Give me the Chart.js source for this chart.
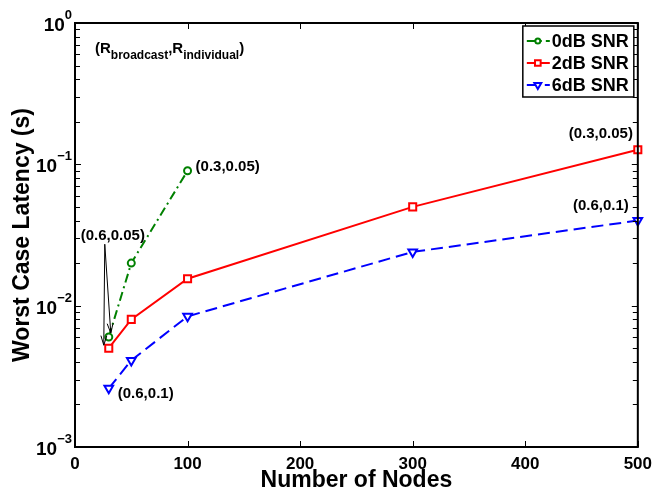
<!DOCTYPE html>
<html>
<head>
<meta charset="utf-8">
<script src="https://cdn.jsdelivr.net/npm/chart.js@4.4.0/dist/chart.umd.min.js"></script>
<style>
html,body{margin:0;padding:0;background:#fff}
</style>
</head>
<body>
<canvas id="latencyChart" width="659" height="491"></canvas>
<script>
// data
const nodesShort = [30, 50, 100]
const latency0dB = [0.006, 0.02, 0.09]
const nodes = [30, 50, 100, 300, 500]
const latency2dB = [0.005, 0.008, 0.0155, 0.05, 0.127]
const latency6dB = [0.0026, 0.0041, 0.0084, 0.024, 0.04]
const seriesNames = ["0dB SNR", "2dB SNR", "6dB SNR"]
const xTicks = [0, 100, 200, 300, 400, 500]
const yDecades = [1, 0.1, 0.01, 0.001]
const yExponents = ["0", "\u22121", "\u22122", "\u22123"]

// (rate) labels attached to data points
const notes = [
  {text:"(0.3,0.05)", x:100, y:0.09, dx:8, dy:-4, align:"left"},
  {text:"(0.3,0.05)", x:500, y:0.127, dx:-37, dy:-16, align:"center"},
  {text:"(0.6,0.1)", x:500, y:0.04, dx:-37, dy:-15, align:"center"},
  {text:"(0.6,0.1)", x:30, y:0.0026, dx:9, dy:6, align:"left"},
  {text:"(0.6,0.05)", x:30, y:0.005, dx:4, dy:-112, align:"center"}
]

const toPoints = (xs, ys) => xs.map((x, i) => ({x: x, y: ys[i]}))

const BOLD = '"Liberation Sans", Arial, Helvetica, sans-serif'

/* ======================
   MATLAB STYLE AXES
====================== */

const matlabAxes = {
  id: "matlabAxes",
  afterDraw(chart) {
    const {ctx, chartArea: a, scales: {x, y}} = chart
    ctx.save()
    ctx.strokeStyle = "#000"
    ctx.fillStyle = "#000"

    // ticks (inward, all sides)
    ctx.lineWidth = 1
    ctx.beginPath()
    xTicks.forEach(v => {
      const px = Math.round(x.getPixelForValue(v)) + 0.5
      ctx.moveTo(px, a.bottom); ctx.lineTo(px, a.bottom - 6)
      ctx.moveTo(px, a.top); ctx.lineTo(px, a.top + 6)
    })
    yDecades.forEach(d => {
      for (let m = 1; m <= 9; m++) {
        const v = d * m
        if (v > 1) break
        const py = Math.round(y.getPixelForValue(v)) + 0.5
        const len = m === 1 ? 6 : 5
        ctx.moveTo(a.left, py); ctx.lineTo(a.left + len, py)
        ctx.moveTo(a.right, py); ctx.lineTo(a.right - len, py)
      }
    })
    ctx.stroke()

    // box
    ctx.lineWidth = 2
    ctx.strokeRect(a.left, a.top, a.right - a.left, a.bottom - a.top)

    // y tick labels 10^n
    yDecades.forEach((d, i) => {
      const py = y.getPixelForValue(d)
      ctx.font = "bold 13px " + BOLD
      ctx.textAlign = "right"
      ctx.textBaseline = "alphabetic"
      const ew = ctx.measureText(yExponents[i]).width
      ctx.fillText(yExponents[i], a.left - 3, py - 4)
      ctx.font = "bold 19px " + BOLD
      ctx.fillText("10", a.left - 3 - ew, py + 8)
    })

    // corner caption (R_broadcast, R_individual)
    let cx = a.left + 20
    const cy = a.top + 30
    ctx.textAlign = "left"
    const parts = [["(R", 15, 0], ["broadcast", 12, 6], [",R", 15, 0], ["individual", 12, 6], [")", 15, 0]]
    parts.forEach(p => {
      ctx.font = "bold " + p[1] + "px " + BOLD
      ctx.fillText(p[0], cx, cy + p[2])
      cx += ctx.measureText(p[0]).width
    })

    // point labels
    ctx.font = "bold 15px " + BOLD
    ctx.textBaseline = "middle"
    notes.forEach(n => {
      ctx.textAlign = n.align
      ctx.fillText(n.text, x.getPixelForValue(n.x) + n.dx, y.getPixelForValue(n.y) + n.dy)
    })

    // arrows from (0.6,0.05) to first points
    const start = {x: x.getPixelForValue(30) - 4, y: y.getPixelForValue(0.005) - 104}
    const targets = [
      {x: x.getPixelForValue(30) - 5, y: y.getPixelForValue(0.005) - 3},
      {x: x.getPixelForValue(30) + 2, y: y.getPixelForValue(0.006) - 4}
    ]
    ctx.lineWidth = 1
    targets.forEach(t => {
      ctx.beginPath()
      ctx.moveTo(start.x, start.y)
      ctx.lineTo(t.x, t.y)
      ctx.stroke()
      const ang = Math.atan2(t.y - start.y, t.x - start.x)
      ctx.beginPath()
      ctx.moveTo(t.x, t.y)
      ctx.lineTo(t.x - 10 * Math.cos(ang - 0.3), t.y - 10 * Math.sin(ang - 0.3))
      ctx.moveTo(t.x, t.y)
      ctx.lineTo(t.x - 10 * Math.cos(ang + 0.3), t.y - 10 * Math.sin(ang + 0.3))
      ctx.stroke()
    })

    // legend box
    const lx = a.right - 115, ly = a.top + 3, lw = 111, lh = 71
    ctx.fillStyle = "#fff"
    ctx.fillRect(lx, ly, lw, lh)
    ctx.strokeStyle = "#000"
    ctx.lineWidth = 1.5
    ctx.strokeRect(lx, ly, lw, lh)
    chart.data.datasets.forEach((ds, i) => {
      const rowY = ly + 15 + i * 22
      ctx.strokeStyle = ds.borderColor
      ctx.lineWidth = ds.borderWidth
      ctx.setLineDash(ds.borderDash || [])
      ctx.beginPath()
      ctx.moveTo(lx + 4, rowY); ctx.lineTo(lx + 27, rowY)
      ctx.stroke()
      ctx.setLineDash([])
      ctx.fillStyle = ds.pointBackgroundColor
      ctx.strokeStyle = ds.borderColor
      ctx.lineWidth = ds.pointBorderWidth
      Chart.helpers.drawPoint(ctx, {
        pointStyle: ds.pointStyle, radius: ds.pointRadius - 1, rotation: ds.pointRotation || 0,
        borderWidth: ds.pointBorderWidth
      }, lx + 15, rowY)
      ctx.fillStyle = "#000"
      ctx.font = "bold 18px " + BOLD
      ctx.textAlign = "left"
      ctx.textBaseline = "middle"
      ctx.fillText(seriesNames[i], lx + 29, rowY + 1)
    })
    ctx.restore()
  }
}

/* ======================
   LATENCY CHART
====================== */

new Chart(document.getElementById("latencyChart"), {
  type: "line",
  data: {
    datasets: [{
      label: seriesNames[0],
      data: toPoints(nodesShort, latency0dB),
      borderColor: "#008000",
      borderWidth: 2,
      borderDash: [9, 4, 2, 4],
      pointStyle: "circle",
      pointRadius: 3.5,
      pointBorderWidth: 2,
      pointBackgroundColor: "#fff",
      pointBorderColor: "#008000",
      clip: false
    }, {
      label: seriesNames[1],
      data: toPoints(nodes, latency2dB),
      borderColor: "#ff0000",
      borderWidth: 2,
      pointStyle: "rect",
      pointRadius: 5,
      pointBorderWidth: 2,
      pointBackgroundColor: "#fff",
      pointBorderColor: "#ff0000",
      clip: false
    }, {
      label: seriesNames[2],
      data: toPoints(nodes, latency6dB),
      borderColor: "#0000ff",
      borderWidth: 2,
      borderDash: [12, 6],
      pointStyle: "triangle",
      pointRotation: 180,
      pointRadius: 5,
      pointBorderWidth: 2,
      pointBackgroundColor: "#fff",
      pointBorderColor: "#0000ff",
      clip: false
    }]
  },
  options: {
    responsive: false,
    animation: false,
    devicePixelRatio: 1,
    layout: {padding: {top: 23, right: 17, left: 0, bottom: 0}},
    plugins: {legend: {display: false}, tooltip: {enabled: false}},
    scales: {
      x: {
        type: "linear",
        min: 0,
        max: 500,
        afterBuildTicks: s => { s.ticks = xTicks.map(v => ({value: v})) },
        ticks: {color: "#000", font: {family: BOLD, size: 17, weight: "bold"}, padding: 7, maxRotation: 0},
        grid: {display: false, drawTicks: false},
        border: {display: false},
        title: {display: true, text: "Number of Nodes", color: "#000",
          font: {family: BOLD, size: 23, weight: "bold"}, padding: {top: 0, bottom: -3}},
        afterFit: s => { s.height = 44 }
      },
      y: {
        type: "logarithmic",
        min: 0.001,
        max: 1,
        ticks: {display: false},
        grid: {display: false, drawTicks: false},
        border: {display: false},
        title: {display: true, text: "Worst Case Latency (s)", color: "#000",
          font: {family: BOLD, size: 23, weight: "bold"}, padding: {top: 9, bottom: 0}},
        afterFit: s => { s.width = 75 }
      }
    }
  },
  plugins: [matlabAxes]
})
</script>
</body>
</html>
